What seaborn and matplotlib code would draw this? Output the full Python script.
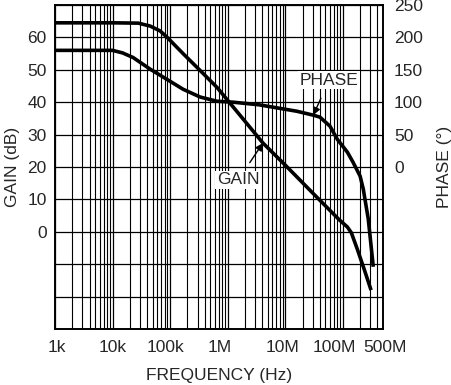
import numpy as np
import pandas as pd
import matplotlib
matplotlib.use("Agg")
import matplotlib.pyplot as plt
import matplotlib.transforms as mtransforms
from matplotlib.ticker import FixedLocator, NullFormatter, LogLocator
import seaborn as sns

# Gain curve (dB)
gain_freq = [1e3, 1e4, 2.8e4, 4.5e4, 6.7e4, 8.9e4, 1.68e5, 3.32e5, 6.5e5, 1.25e6, 4.1e6,
             1.08e7, 3.07e7, 8.7e7, 1.2e8, 1.41e8, 1.8e8, 2.4e8, 3.1e8]
gain_db = [64.5, 64.5, 64.4, 63.5, 62.0, 60.0, 55.0, 49.8, 44.6, 38.5, 27.4,
           20.0, 11.8, 3.7, 1.5, -0.3, -5.5, -12.0, -18.0]

# Phase curve (degrees)
phase_freq = [1e3, 1e4, 1.5e4, 2.27e4, 4.5e4, 8.9e4, 1.68e5, 3.32e5, 6.5e5, 1.25e6, 3.5e6,
              1.6e7, 3.07e7, 4e7, 6e7, 8e7, 1.2e8, 1.5e8, 2e8, 2.27e8, 2.77e8, 3.39e8]
phase_deg = [180, 180, 176, 169, 151, 135, 120, 108, 101.5, 100, 96,
             86, 80, 77, 63, 43, 23, 7.7, -14, -34, -80, -154]

xtick_vals = [1e3, 1e4, 1e5, 1e6, 1e7, 1e8, 5e8]
xtick_labels = ["1k", "10k", "100k", "1M", "10M", "100M", "500M"]
gain_ticks = [0, 10, 20, 30, 40, 50, 60]
phase_ticks = [0, 50, 100, 150, 200, 250]

sns.set_style("white")
plt.rcParams["font.family"] = ["Liberation Sans", "DejaVu Sans"]

gain_df = pd.DataFrame({"freq": gain_freq, "gain": gain_db})
phase_df = pd.DataFrame({"freq": phase_freq, "phase": phase_deg})

fig = plt.figure(figsize=(4.52, 3.85), dpi=100)
ax = fig.add_axes([55 / 452, 1 - 329 / 385, 328 / 452, 324 / 385])
ax2 = ax.twinx()

sns.lineplot(data=gain_df, x="freq", y="gain", ax=ax, color="black", linewidth=2.6,
             solid_capstyle="butt", zorder=5)
sns.lineplot(data=phase_df, x="freq", y="phase", ax=ax2, color="black", linewidth=2.6,
             solid_capstyle="butt", zorder=5)

ax.set_xscale("log")
ax.set_xlim(1e3, 5e8)
ax.set_ylim(-30, 70)
ax2.set_ylim(-250, 250)

# grid
ax.xaxis.set_major_locator(FixedLocator(xtick_vals))
ax.set_xticklabels(xtick_labels)
ax.xaxis.set_minor_locator(LogLocator(base=10, subs=np.arange(2, 10)))
ax.xaxis.set_minor_formatter(NullFormatter())
ax.set_yticks(np.arange(-30, 71, 10))
ax.set_yticklabels([str(v) if v in gain_ticks else "" for v in range(-30, 71, 10)])
ax.grid(True, which="major", color="black", linewidth=0.9)
ax.grid(True, which="minor", axis="x", color="black", linewidth=0.8)
ax2.set_yticks(phase_ticks)
ax2.grid(False)

fs = 12.5
ax.tick_params(axis="both", which="both", length=0, labelsize=fs, pad=6)
ax.tick_params(axis="x", pad=8)
ax2.tick_params(axis="y", length=0, labelsize=fs, pad=8)

# nudge the frequency labels the way the datasheet has them
nudge_px = [2, 0, -5, -8, -3, -8, 2]
for lbl, dx in zip(ax.get_xticklabels(), nudge_px):
    lbl.set_transform(lbl.get_transform() +
                      mtransforms.ScaledTranslation(dx / 100, 0, fig.dpi_scale_trans))

for a in (ax, ax2):
    for s in a.spines.values():
        s.set_color("black")
        s.set_linewidth(1.2)

ax.set_xlabel("FREQUENCY (Hz)", fontsize=fs, labelpad=9)
ax.set_ylabel("GAIN (dB)", fontsize=fs, labelpad=5)
ax2.set_ylabel("PHASE (°)", fontsize=fs, labelpad=10)

box = dict(boxstyle="square,pad=0.1", fc="white", ec="none")
ax.annotate("PHASE", xy=(3.07e7, 36.0), xytext=(5.8e7, 46.8),
            fontsize=fs, ha="center", va="center", bbox=box, zorder=6,
            arrowprops=dict(arrowstyle="-|>", color="black", lw=1, shrinkA=7, shrinkB=0,
                            mutation_scale=11))
ax.annotate("GAIN", xy=(4.1e6, 27.4), xytext=(1.52e6, 16.0),
            fontsize=fs, ha="center", va="center", bbox=box, zorder=6,
            arrowprops=dict(arrowstyle="-|>", color="black", lw=1, shrinkA=7, shrinkB=0,
                            mutation_scale=11))

fig.savefig("out.png", dpi=100)
